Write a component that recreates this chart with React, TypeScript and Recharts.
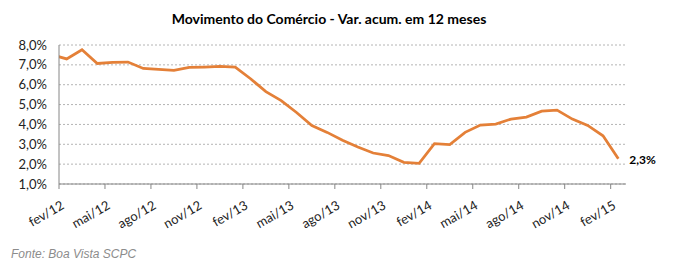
import { LineChart, Line, XAxis, YAxis, CartesianGrid } from "recharts";

// monthly series; jan/12 sits just left of the visible range and is clipped
const months = [
  "jan/12", "fev/12", "mar/12", "abr/12", "mai/12", "jun/12", "jul/12", "ago/12", "set/12", "out/12", "nov/12", "dez/12",
  "jan/13", "fev/13", "mar/13", "abr/13", "mai/13", "jun/13", "jul/13", "ago/13", "set/13", "out/13", "nov/13", "dez/13",
  "jan/14", "fev/14", "mar/14", "abr/14", "mai/14", "jun/14", "jul/14", "ago/14", "set/14", "out/14", "nov/14", "dez/14",
  "jan/15", "fev/15",
];

const values = [
  7.52, 7.3, 7.76, 7.07, 7.12, 7.14, 6.82, 6.77, 6.72, 6.87, 6.89, 6.92,
  6.89, 6.3, 5.65, 5.2, 4.6, 3.94, 3.6, 3.2, 2.86, 2.56, 2.43, 2.09,
  2.04, 3.03, 2.98, 3.6, 3.97, 4.02, 4.27, 4.37, 4.67, 4.72, 4.27, 3.95,
  3.43, 2.27,
];

const tickLabels = [
  "fev/12", "mai/12", "ago/12", "nov/12", "fev/13", "mai/13", "ago/13",
  "nov/13", "fev/14", "mai/14", "ago/14", "nov/14", "fev/15",
];

const yTicks = [1, 2, 3, 4, 5, 6, 7, 8];

const data = values.map((v, i) => ({ i, month: months[i], value: v }));
const xTicks = tickLabels.map((l) => months.indexOf(l) - 0.5);
const lastIndex = values.length - 1;

const fmtPct = (v: number) => v.toFixed(1).replace(".", ",") + "%";

const font = "Lato, 'Open Sans', sans-serif";

function MonthTick(props: any) {
  const { x, y, payload } = props;
  const label = months[payload.value + 0.5];
  const ax = x + 6;
  const ay = y + 17;
  return (
    <text
      x={ax}
      y={ay}
      textAnchor="end"
      transform={`rotate(-30, ${ax}, ${ay})`}
      fill="#222"
      fontSize={13}
      fontFamily={font}
    >
      {label}
    </text>
  );
}

function LastLabel(props: any) {
  const { x, y, index } = props;
  if (index !== lastIndex) return null;
  return (
    <text x={x + 11} y={y + 5} fill="#000" fontSize={12} fontWeight="bold" fontFamily={font}>
      {fmtPct(values[lastIndex])}
    </text>
  );
}

export default function App() {
  return (
    <div style={{ position: "absolute", left: 0, top: 0, width: 674, height: 263, background: "#fff" }}>
      <div
        style={{
          position: "absolute",
          left: 0,
          top: 10,
          width: 658,
          textAlign: "center",
          fontFamily: font,
          fontWeight: "bold",
          fontSize: 14,
          color: "#000",
        }}
      >
        Movimento do Comércio - Var. acum. em 12 meses
      </div>
      <LineChart width={674} height={263} data={data} margin={{ top: 45, right: 48, left: 8, bottom: 39 }}>
        <CartesianGrid vertical={false} stroke="#b4b4b4" strokeDasharray="2 2" />
        <XAxis
          type="number"
          dataKey="i"
          domain={[0.5, values.length - 0.5]}
          ticks={xTicks}
          allowDataOverflow
          interval={0}
          height={40}
          tick={<MonthTick />}
          tickSize={5}
          stroke="#868686"
          tickLine={{ stroke: "#868686" }}
        />
        <YAxis
          domain={[1, 8]}
          ticks={yTicks}
          width={51}
          tickFormatter={fmtPct}
          tickLine={false}
          tickSize={6}
          tickMargin={6}
          stroke="#868686"
          tick={{ fill: "#222", fontSize: 13, fontFamily: font }}
          interval={0}
        />
        <Line
          type="linear"
          dataKey="value"
          stroke="#E48038"
          strokeWidth={2.75}
          dot={false}
          isAnimationActive={false}
          label={<LastLabel />}
        />
      </LineChart>
      <div
        style={{
          position: "absolute",
          left: 11,
          top: 247,
          fontFamily: "'Liberation Sans', Arial, sans-serif",
          fontStyle: "italic",
          fontSize: 12,
          color: "#8c8c8c",
        }}
      >
        Fonte: Boa Vista SCPC
      </div>
    </div>
  );
}
